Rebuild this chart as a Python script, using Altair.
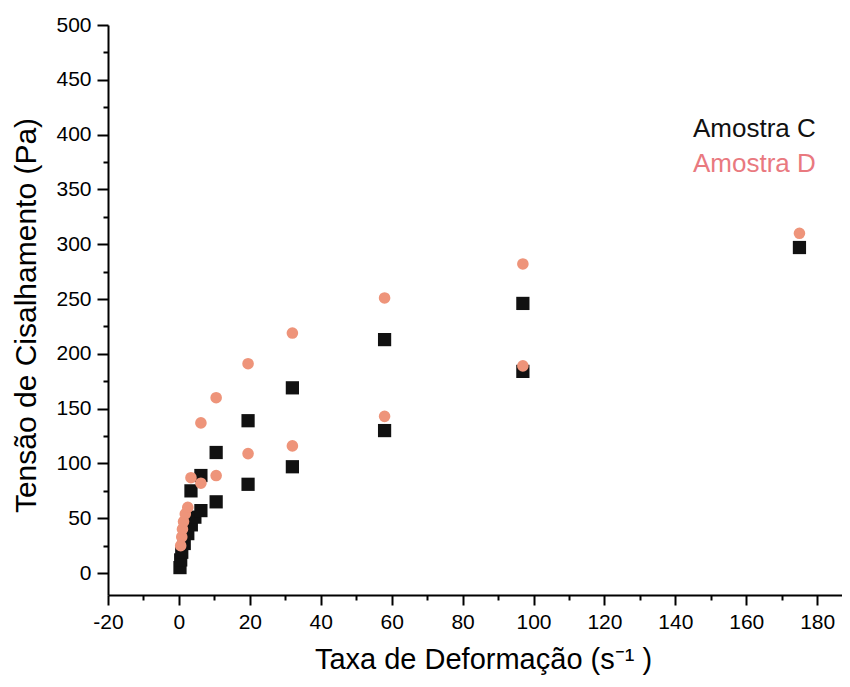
import altair as alt
import pandas as pd

# Amostra C (black squares)
c_x = [0.3, 0.5, 0.8, 1.5, 2.5, 3.5, 4.5, 6.2, 10.5, 19.5, 32, 58, 97,
       3.4, 6.2, 10.5, 19.5, 32, 58, 97, 175]
c_y = [5, 12, 19, 27, 36, 44, 51, 57, 65, 81, 97, 130, 184,
       75, 89, 110, 139, 169, 213, 246, 297]

# Amostra D (orange circles)
d_x = [0.5, 0.8, 1.0, 1.3, 1.8, 2.5, 3.4, 6.2, 10.5, 19.5, 32, 58, 97,
       6.2, 10.5, 19.5, 32, 58, 97, 175]
d_y = [25, 33, 40, 47, 54, 60, 87, 82, 89, 109, 116, 143, 189,
       137, 160, 191, 219, 251, 282, 310]

legend_labels = ["Amostra C", "Amostra D"]
legend_colors = ["#111111", "#E9797F"]

x_major = list(range(-20, 181, 20))
x_minor = list(range(-10, 181, 20))
y_major = list(range(0, 501, 50))
y_minor = list(range(25, 500, 50))

FONT = "Liberation Sans"

df_c = pd.DataFrame({"x": c_x, "y": c_y})
df_d = pd.DataFrame({"x": d_x, "y": d_y})

xs = alt.Scale(domain=[-20, 187], nice=False, zero=False)
ys = alt.Scale(domain=[-20, 500], nice=False, zero=False)

hyphen = "datum.value < 0 ? '-' + abs(datum.value) : datum.label"

major_x_axis = alt.Axis(values=x_major, orient="bottom", tickSize=10, tickWidth=2,
                        labelPadding=6, labelFontSize=21, labelFont=FONT,
                        labelColor="black", domainColor="black", domainWidth=2,
                        tickColor="black", grid=False, labelExpr=hyphen,
                        title="Taxa de Deformação (s⁻¹ )", titleFont=FONT,
                        titleFontSize=29, titleFontWeight="normal", titleColor="black",
                        titlePadding=13, titleX=375, labelFlush=False)
major_y_axis = alt.Axis(values=y_major, orient="left", tickSize=11, tickWidth=2,
                        labelPadding=6, labelFontSize=21, labelFont=FONT,
                        labelColor="black", domainColor="black", domainWidth=2,
                        tickColor="black", grid=False,
                        title="Tensão de Cisalhamento (Pa)", titleFont=FONT,
                        titleFontSize=30, titleFontWeight="normal", titleColor="black",
                        titlePadding=14, titleY=290, labelFlush=False)
minor_x_axis = alt.Axis(values=x_minor, orient="bottom", tickSize=5, tickWidth=2,
                        labels=False, domain=False, tickColor="black", grid=False, title=None)
minor_y_axis = alt.Axis(values=y_minor, orient="left", tickSize=5, tickWidth=2,
                        labels=False, domain=False, tickColor="black", grid=False, title=None)

minor = alt.Chart(df_c).mark_point(opacity=0).encode(
    x=alt.X("x:Q", scale=xs, axis=minor_x_axis),
    y=alt.Y("y:Q", scale=ys, axis=minor_y_axis),
)

squares = alt.Chart(df_c).mark_square(size=175, color="#111111", opacity=1).encode(
    x=alt.X("x:Q", scale=xs, axis=major_x_axis),
    y=alt.Y("y:Q", scale=ys, axis=major_y_axis),
)

circles = alt.Chart(df_d).mark_circle(size=135, color="#EE947A", opacity=1).encode(
    x=alt.X("x:Q", scale=xs, axis=None),
    y=alt.Y("y:Q", scale=ys, axis=None),
)

leg_c = alt.Chart(pd.DataFrame({"t": [legend_labels[0]]})).mark_text(
    font=FONT, fontSize=26, align="left", baseline="alphabetic", color=legend_colors[0]
).encode(x=alt.value(585), y=alt.value(112), text="t:N")
leg_d = alt.Chart(pd.DataFrame({"t": [legend_labels[1]]})).mark_text(
    font=FONT, fontSize=26, align="left", baseline="alphabetic", color=legend_colors[1]
).encode(x=alt.value(585), y=alt.value(147), text="t:N")

chart = alt.layer(minor, squares, circles, leg_c, leg_d).resolve_axis(
    x="independent", y="independent"
).properties(
    width=734, height=570,
    autosize=alt.AutoSizeParams(type="none"),
    padding={"left": 100, "top": 17, "right": 0, "bottom": 84},
    background="white",
).configure_view(stroke=None)

chart.save("out.html", embed_options={"renderer": "svg", "actions": False})
